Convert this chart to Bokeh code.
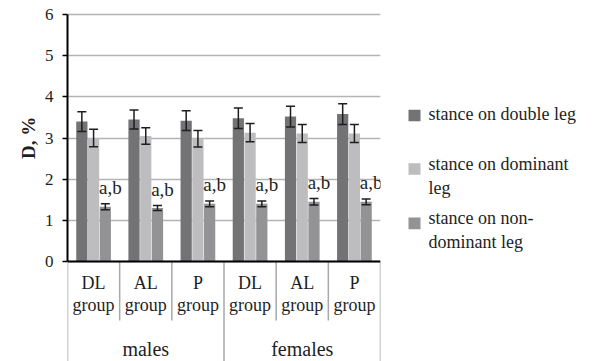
import math
from bokeh.plotting import figure
from bokeh.models import ColumnDataSource, FactorRange, FixedTicker, Span, Range1d
from bokeh.layouts import row
from bokeh.transform import dodge
from bokeh.core.properties import value
from bokeh.embed import file_html
from bokeh.resources import INLINE

# ---- data ----
sexes = ["males", "females"]
groups = ["DL group", "AL group", "P group"]
group_labels = ["DL\ngroup", "AL\ngroup", "P\ngroup"]
series_names = ["stance on double leg", "stance on dominant\nleg", "stance on non-\ndominant leg"]
y_title = "D, %"

double_leg = [3.40, 3.45, 3.42, 3.48, 3.52, 3.58]
double_leg_err = [0.24, 0.23, 0.24, 0.25, 0.25, 0.25]
dominant_leg = [3.00, 3.05, 2.98, 3.13, 3.11, 3.11]
dominant_leg_err = [0.21, 0.20, 0.20, 0.22, 0.22, 0.22]
nondominant_leg = [1.33, 1.30, 1.40, 1.40, 1.45, 1.45]
nondominant_leg_err = [0.07, 0.06, 0.07, 0.07, 0.08, 0.07]
sig_label = "a,b"
y_ticks = [0, 1, 2, 3, 4, 5, 6]

colors = ["#737376", "#bdbdc0", "#939396"]
FONT = "Liberation Serif"
GFONT = value("Liberation Serif")
TXT = "#1e1e1e"

factors = [(s, g) for s in sexes for g in groups]

# layout constants (pixels)
H = 361
FRAME_TOP, ZERO_Y, SIX_Y = 10, 261, 14
TITLE_W, LEG_W = 40, 210
px_per_unit = (ZERO_Y - SIX_Y) / 6.0
y_end = 6 + (SIX_Y - FRAME_TOP) / px_per_unit
y_start = -(H - ZERO_Y) / px_per_unit

# ---- y-title panel ----
tf = figure(width=TITLE_W, height=H, x_range=Range1d(0, TITLE_W), y_range=Range1d(0, H),
            output_backend="svg", toolbar_location=None, min_border=0)
tf.axis.visible = False
tf.grid.visible = False
tf.outline_line_color = None
tf.text(x=[28], y=[H - 131], text=[y_title], angle=math.pi / 2, text_font=GFONT,
        text_font_size="19px", text_font_style="bold", text_align="center",
        text_baseline="middle", text_color=TXT)

# ---- main chart ----
xr = FactorRange(*factors, factor_padding=0, group_padding=0, range_padding=0)
p = figure(width=342, height=H, x_range=xr,
           y_range=Range1d(y_start, y_end), output_backend="svg", toolbar_location=None,
           min_border_left=67 - TITLE_W, min_border_right=2, min_border_top=FRAME_TOP,
           min_border_bottom=0)
p.outline_line_color = None
p.xaxis.visible = False
p.xgrid.visible = False

src = ColumnDataSource(dict(
    x=factors,
    d=double_leg, d_lo=[v - e for v, e in zip(double_leg, double_leg_err)],
    d_hi=[v + e for v, e in zip(double_leg, double_leg_err)],
    m=dominant_leg, m_lo=[v - e for v, e in zip(dominant_leg, dominant_leg_err)],
    m_hi=[v + e for v, e in zip(dominant_leg, dominant_leg_err)],
    n=nondominant_leg, n_lo=[v - e for v, e in zip(nondominant_leg, nondominant_leg_err)],
    n_hi=[v + e for v, e in zip(nondominant_leg, nondominant_leg_err)],
    lab=[sig_label] * len(factors),
    glab=group_labels * len(sexes),
))

p.yaxis.ticker = FixedTicker(ticks=y_ticks)
p.yaxis.bounds = (y_ticks[0], y_ticks[-1])
p.yaxis.axis_line_width = 2
p.yaxis.axis_line_color = "black"
p.yaxis.major_tick_line_color = "black"
p.yaxis.major_tick_line_width = 1.5
p.yaxis.major_tick_out = 5
p.yaxis.major_tick_in = 0
p.yaxis.minor_tick_line_color = None
p.yaxis.major_label_text_font = FONT
p.yaxis.major_label_text_font_size = "17px"
p.yaxis.major_label_text_color = TXT
p.yaxis.major_label_standoff = 9
p.ygrid.grid_line_color = "#b4b4b4"
p.ygrid.grid_line_width = 1.5

offsets = [-0.225, 0.0, 0.225]
bw = 0.215
keys = ["d", "m", "n"]
for off, k, c in zip(offsets, keys, colors):
    p.vbar(x=dodge("x", off, range=xr), top=k, width=bw, source=src,
           fill_color=c, line_color=None)
for off, k in zip(offsets, keys):
    xx = dodge("x", off, range=xr)
    p.segment(x0=xx, x1=xx, y0=k + "_lo", y1=k + "_hi", source=src,
              line_color=TXT, line_width=1.5)
    for end in ("_lo", "_hi"):
        p.scatter(x=xx, y=k + end, marker="dash", size=9, source=src,
                  line_color=TXT, line_width=1.5)

# significance labels
p.text(x=dodge("x", 0.225, range=xr), y="n_hi", text="lab", source=src,
       x_offset=5, y_offset=-6, text_font=GFONT, text_font_size="19px",
       text_align="center", text_baseline="bottom", text_color=TXT)

# bottom axis line
p.add_layout(Span(location=0, dimension="width", line_color="black", line_width=2))

# category axis separators and labels
inner_bottom = -(320 - ZERO_Y) / px_per_unit
p.segment(x0=dodge("x", 0.5, range=xr), x1=dodge("x", 0.5, range=xr),
          y0=0, y1=inner_bottom,
          source=ColumnDataSource(dict(x=[factors[0], factors[1], factors[3], factors[4]])),
          line_color="#a8a8a8", line_width=1.5)
p.segment(x0=dodge("x", -0.5, range=xr), x1=dodge("x", -0.5, range=xr),
          y0=0, y1=y_start, source=ColumnDataSource(dict(x=[factors[0], factors[3]])),
          line_color="#a8a8a8", line_width=1.5)
p.segment(x0=dodge("x", 0.5, range=xr), x1=dodge("x", 0.5, range=xr),
          y0=0, y1=y_start, source=ColumnDataSource(dict(x=[factors[5]])),
          line_color="#a8a8a8", line_width=1.5)

p.text(x="x", y=0, text="glab", source=src, y_offset=32, text_font=GFONT,
       text_font_size="18px", text_align="center", text_baseline="middle",
       text_line_height=1.1, text_color=TXT)
p.text(x=sexes, y=[0] * len(sexes), text=sexes, y_offset=87, text_font=GFONT,
       text_font_size="20px", text_align="center", text_baseline="middle", text_color=TXT)

# ---- legend panel ----
lg = figure(width=LEG_W, height=H, x_range=Range1d(0, LEG_W), y_range=Range1d(H, 0),
            output_backend="svg", toolbar_location=None, min_border=0)
lg.axis.visible = False
lg.grid.visible = False
lg.outline_line_color = None
sq_y = [108, 163, 219]
txt_y = [106, 170, 226]
lg.rect(x=[32] * 3, y=sq_y, width=12, height=12, fill_color=colors, line_color=None)
lg.text(x=[46] * 3, y=txt_y, text=series_names, text_font=GFONT,
        text_font_size="18px", text_align="left", text_baseline="middle",
        text_line_height=1.2, text_color=TXT)

open("out.html", "w").write(file_html(row(tf, p, lg), INLINE))
